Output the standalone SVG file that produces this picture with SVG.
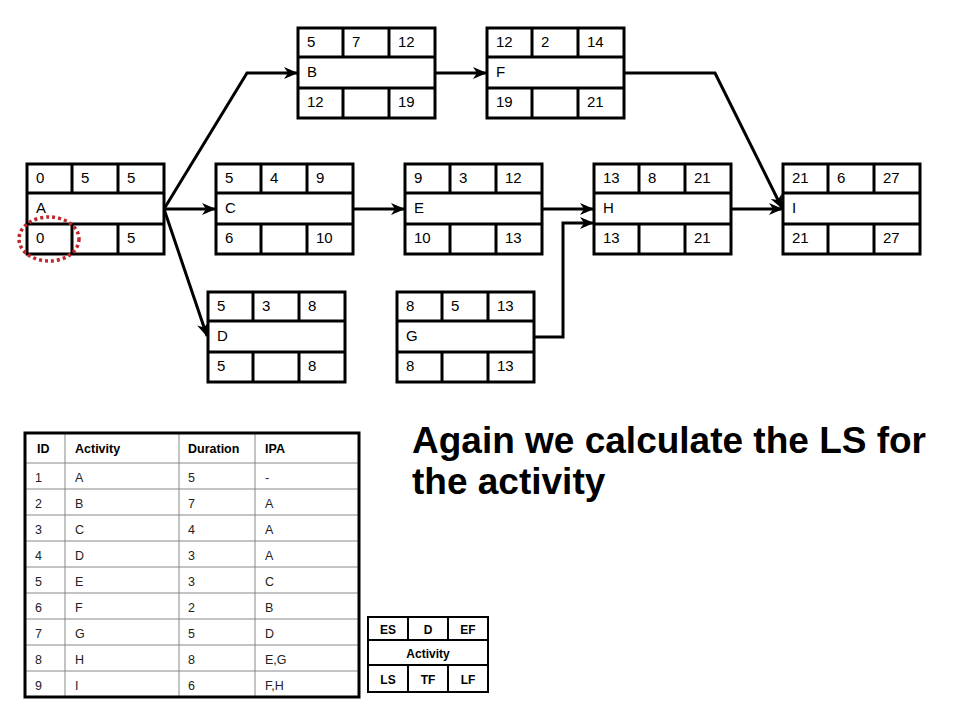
<svg xmlns="http://www.w3.org/2000/svg" width="960" height="720" viewBox="0 0 960 720">
<defs>
<style>
.box{fill:#fff;stroke:#000;stroke-width:3}
.div{stroke:#000;stroke-width:3;fill:none}
.nt{font-family:"Liberation Sans",Arial,sans-serif;font-size:15px;fill:#000}
.conn{stroke:#000;stroke-width:3;fill:none;stroke-linejoin:miter}
.tb{font-family:"Liberation Sans",Arial,sans-serif;font-size:12.5px;fill:#222}
.th{font-family:"Liberation Sans",Arial,sans-serif;font-size:12.5px;font-weight:bold;fill:#000}
.grid{stroke:#888;stroke-width:1;fill:none}
.lg{font-family:"Liberation Sans",Arial,sans-serif;font-size:12px;font-weight:bold;fill:#000;text-anchor:middle}
.big{font-family:"Liberation Sans",Arial,sans-serif;font-size:37px;font-weight:bold;fill:#000}
</style>
<marker id="arr" viewBox="0 0 14 12" refX="13" refY="6" markerWidth="14" markerHeight="12" markerUnits="userSpaceOnUse" orient="auto">
<path d="M0,0 L14,6 L0,12 L4,6 Z" fill="#000"/>
</marker>
<g id="tpl">
<rect class="box" x="0" y="0" width="137" height="90"/>
<path class="div" d="M0,29 H137 M0,60 H137 M45,0 V29 M91,0 V29 M45,60 V90 M91,60 V90"/>
</g>
</defs>
<rect width="960" height="720" fill="#fff"/>

<g id="connectors">
<path class="conn" d="M164,209 L247,73 L297,73" marker-end="url(#arr)"/>
<path class="conn" d="M164,209 L215,209" marker-end="url(#arr)"/>
<path class="conn" d="M164,209 L207,336" marker-end="url(#arr)"/>
<path class="conn" d="M435,73 L486,73" marker-end="url(#arr)"/>
<path class="conn" d="M353,209 L404,209" marker-end="url(#arr)"/>
<path class="conn" d="M542,209 L593,209" marker-end="url(#arr)"/>
<path class="conn" d="M534,337 L563,337 L563,223 L593,223" marker-end="url(#arr)"/>
<path class="conn" d="M624,73 L715,73 L782,208" marker-end="url(#arr)"/>
<path class="conn" d="M731,209 L782,209" marker-end="url(#arr)"/>
</g>

<g id="node-A" transform="translate(27,164)">
<use href="#tpl"/>
<text class="nt" x="9" y="19">0</text><text class="nt" x="54" y="19">5</text><text class="nt" x="100" y="19">5</text>
<text class="nt" x="9" y="49">A</text>
<text class="nt" x="9" y="79">0</text><text class="nt" x="100" y="79">5</text>
</g>
<g id="node-B" transform="translate(298,28)">
<use href="#tpl"/>
<text class="nt" x="9" y="19">5</text><text class="nt" x="54" y="19">7</text><text class="nt" x="100" y="19">12</text>
<text class="nt" x="9" y="49">B</text>
<text class="nt" x="9" y="79">12</text><text class="nt" x="100" y="79">19</text>
</g>
<g id="node-F" transform="translate(487,28)">
<use href="#tpl"/>
<text class="nt" x="9" y="19">12</text><text class="nt" x="54" y="19">2</text><text class="nt" x="100" y="19">14</text>
<text class="nt" x="9" y="49">F</text>
<text class="nt" x="9" y="79">19</text><text class="nt" x="100" y="79">21</text>
</g>
<g id="node-C" transform="translate(216,164)">
<use href="#tpl"/>
<text class="nt" x="9" y="19">5</text><text class="nt" x="54" y="19">4</text><text class="nt" x="100" y="19">9</text>
<text class="nt" x="9" y="49">C</text>
<text class="nt" x="9" y="79">6</text><text class="nt" x="100" y="79">10</text>
</g>
<g id="node-E" transform="translate(405,164)">
<use href="#tpl"/>
<text class="nt" x="9" y="19">9</text><text class="nt" x="54" y="19">3</text><text class="nt" x="100" y="19">12</text>
<text class="nt" x="9" y="49">E</text>
<text class="nt" x="9" y="79">10</text><text class="nt" x="100" y="79">13</text>
</g>
<g id="node-H" transform="translate(594,164)">
<use href="#tpl"/>
<text class="nt" x="9" y="19">13</text><text class="nt" x="54" y="19">8</text><text class="nt" x="100" y="19">21</text>
<text class="nt" x="9" y="49">H</text>
<text class="nt" x="9" y="79">13</text><text class="nt" x="100" y="79">21</text>
</g>
<g id="node-I" transform="translate(783,164)">
<use href="#tpl"/>
<text class="nt" x="9" y="19">21</text><text class="nt" x="54" y="19">6</text><text class="nt" x="100" y="19">27</text>
<text class="nt" x="9" y="49">I</text>
<text class="nt" x="9" y="79">21</text><text class="nt" x="100" y="79">27</text>
</g>
<g id="node-D" transform="translate(208,292)">
<use href="#tpl"/>
<text class="nt" x="9" y="19">5</text><text class="nt" x="54" y="19">3</text><text class="nt" x="100" y="19">8</text>
<text class="nt" x="9" y="49">D</text>
<text class="nt" x="9" y="79">5</text><text class="nt" x="100" y="79">8</text>
</g>
<g id="node-G" transform="translate(397,292)">
<use href="#tpl"/>
<text class="nt" x="9" y="19">8</text><text class="nt" x="54" y="19">5</text><text class="nt" x="100" y="19">13</text>
<text class="nt" x="9" y="49">G</text>
<text class="nt" x="9" y="79">8</text><text class="nt" x="100" y="79">13</text>
</g>

<g id="highlight">
<ellipse cx="49" cy="239" rx="30" ry="22" fill="none" stroke="#c0272d" stroke-width="3.5" stroke-dasharray="3 3"/>
</g>

<g id="table">
<path class="grid" d="M65,433 V697 M179,433 V697 M255,433 V697 M25,463 H359 M25,489 H359 M25,515 H359 M25,541 H359 M25,567 H359 M25,593 H359 M25,619 H359 M25,645 H359 M25,671 H359"/>
<rect x="25" y="433" width="334" height="264" fill="none" stroke="#000" stroke-width="3"/>
<text class="th" x="37" y="453">ID</text><text class="th" x="75" y="453">Activity</text><text class="th" x="188" y="453">Duration</text><text class="th" x="265" y="453">IPA</text>
<text class="tb" x="35" y="482">1</text><text class="tb" x="75" y="482">A</text><text class="tb" x="188" y="482">5</text><text class="tb" x="265" y="482">-</text>
<text class="tb" x="35" y="508">2</text><text class="tb" x="75" y="508">B</text><text class="tb" x="188" y="508">7</text><text class="tb" x="265" y="508">A</text>
<text class="tb" x="35" y="534">3</text><text class="tb" x="75" y="534">C</text><text class="tb" x="188" y="534">4</text><text class="tb" x="265" y="534">A</text>
<text class="tb" x="35" y="560">4</text><text class="tb" x="75" y="560">D</text><text class="tb" x="188" y="560">3</text><text class="tb" x="265" y="560">A</text>
<text class="tb" x="35" y="586">5</text><text class="tb" x="75" y="586">E</text><text class="tb" x="188" y="586">3</text><text class="tb" x="265" y="586">C</text>
<text class="tb" x="35" y="612">6</text><text class="tb" x="75" y="612">F</text><text class="tb" x="188" y="612">2</text><text class="tb" x="265" y="612">B</text>
<text class="tb" x="35" y="638">7</text><text class="tb" x="75" y="638">G</text><text class="tb" x="188" y="638">5</text><text class="tb" x="265" y="638">D</text>
<text class="tb" x="35" y="664">8</text><text class="tb" x="75" y="664">H</text><text class="tb" x="188" y="664">8</text><text class="tb" x="265" y="664">E,G</text>
<text class="tb" x="35" y="690">9</text><text class="tb" x="75" y="690">I</text><text class="tb" x="188" y="690">6</text><text class="tb" x="265" y="690">F,H</text>
</g>

<g id="legend">
<rect x="368" y="617" width="120" height="75" fill="#fff" stroke="#000" stroke-width="2"/>
<path d="M368,640 H488 M368,665 H488 M408,617 V640 M448,617 V640 M408,665 V692 M448,665 V692" stroke="#000" stroke-width="2" fill="none"/>
<text class="lg" x="388" y="634">ES</text><text class="lg" x="428" y="634">D</text><text class="lg" x="468" y="634">EF</text>
<text class="lg" x="428" y="658">Activity</text>
<text class="lg" x="388" y="684">LS</text><text class="lg" x="428" y="684">TF</text><text class="lg" x="468" y="684">LF</text>
</g>

<g id="caption">
<text class="big" x="412" y="453">Again we calculate the LS for</text>
<text class="big" x="412" y="494">the activity</text>
</g>
</svg>
